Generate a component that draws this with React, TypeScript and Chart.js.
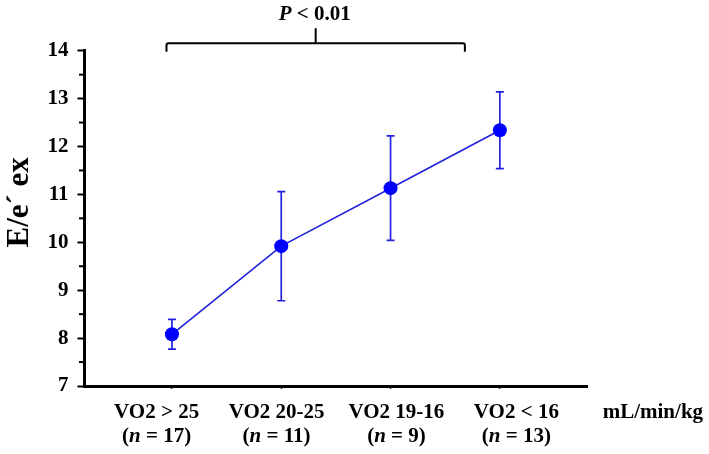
import React, { useEffect, useRef } from "react";
import { Chart, registerables } from "chart.js";

Chart.register(...registerables);

// ---- data ----
const categories = ["VO2 > 25", "VO2 20-25", "VO2 19-16", "VO2 < 16"];
const groupSizes = [17, 11, 9, 13];
const groupIndex = [1, 2, 3, 4];
const meanValues = [8.08, 9.92, 11.13, 12.34];
const sdValues = [0.31, 1.14, 1.09, 0.8];
const yTickValues = [7, 8, 9, 10, 11, 12, 13, 14];
const yMinorTickValues = [7.5, 8.5, 9.5, 10.5, 11.5, 12.5, 13.5];
const unitLabel = "mL/min/kg";
const yTitle = "E/e\u00B4 ex";
const pItalic = "P";
const pRest = " < 0.01";

// ---- layout / style constants ----
const SERIF = '"Liberation Serif", "Times New Roman", serif';
const FONT = `bold 21px ${SERIF}`;
const FONT_IT = `italic bold 21px ${SERIF}`;
const LINE_BLUE = "#2222dd";
const DOT_BLUE = "#0000ff";
const X_MIN = 0.2;
const X_MAX = 4.8;
const LABEL_START = 0.86;
const LABEL_STEP = 1.097;
const UNIT_AT = 5.4;
const BRACKET_FROM = 0.95;
const BRACKET_TO = 3.68;

type Run = { text: string; font: string };

function drawRuns(ctx: CanvasRenderingContext2D, runs: Run[], cx: number, y: number) {
  let total = 0;
  const widths = runs.map((r) => {
    ctx.font = r.font;
    const w = ctx.measureText(r.text).width;
    total += w;
    return w;
  });
  let x = cx - total / 2;
  ctx.textAlign = "left";
  ctx.textBaseline = "alphabetic";
  runs.forEach((r, i) => {
    ctx.font = r.font;
    ctx.fillText(r.text, x, y);
    x += widths[i];
  });
}

const annotatePlugin = {
  id: "annotate",
  beforeDatasetsDraw(chart: any) {
    const ctx: CanvasRenderingContext2D = chart.ctx;
    const xs = chart.scales.x;
    const ys = chart.scales.y;
    ctx.save();
    ctx.strokeStyle = LINE_BLUE;
    ctx.lineWidth = 1.7;
    groupIndex.forEach((g, i) => {
      const x = xs.getPixelForValue(g);
      const yTop = ys.getPixelForValue(meanValues[i] + sdValues[i]);
      const yBot = ys.getPixelForValue(meanValues[i] - sdValues[i]);
      ctx.beginPath();
      ctx.moveTo(x, yTop);
      ctx.lineTo(x, yBot);
      ctx.moveTo(x - 4, yTop);
      ctx.lineTo(x + 4, yTop);
      ctx.moveTo(x - 4, yBot);
      ctx.lineTo(x + 4, yBot);
      ctx.stroke();
    });
    ctx.restore();
  },
  afterDraw(chart: any) {
    const ctx: CanvasRenderingContext2D = chart.ctx;
    const xs = chart.scales.x;
    const ys = chart.scales.y;
    const area = chart.chartArea;
    ctx.save();
    ctx.fillStyle = "#000";
    ctx.strokeStyle = "#000";

    // minor ticks on the y axis
    ctx.lineWidth = 2;
    yMinorTickValues.forEach((v) => {
      const y = ys.getPixelForValue(v);
      ctx.beginPath();
      ctx.moveTo(area.left - 5.5, y);
      ctx.lineTo(area.left, y);
      ctx.stroke();
    });

    // category labels
    categories.forEach((c, i) => {
      const cx = xs.getPixelForValue(LABEL_START + i * LABEL_STEP);
      drawRuns(ctx, [{ text: c, font: FONT }], cx, area.bottom + 31.7);
      drawRuns(
        ctx,
        [
          { text: "(", font: FONT },
          { text: "n", font: FONT_IT },
          { text: ` = ${groupSizes[i]})`, font: FONT },
        ],
        cx,
        area.bottom + 56
      );
    });
    drawRuns(ctx, [{ text: unitLabel, font: FONT }], xs.getPixelForValue(UNIT_AT), area.bottom + 31.7);

    // y title
    ctx.save();
    ctx.translate(28, (area.top + area.bottom) / 2 - 16);
    ctx.rotate(-Math.PI / 2);
    ctx.font = `bold 31px ${SERIF}`;
    ctx.textAlign = "center";
    ctx.textBaseline = "alphabetic";
    ctx.fillText(yTitle, 0, 0);
    ctx.restore();

    // significance bracket
    const bx1 = xs.getPixelForValue(BRACKET_FROM);
    const bx2 = xs.getPixelForValue(BRACKET_TO);
    const bm = (bx1 + bx2) / 2;
    const by = area.top - 7.5;
    ctx.lineWidth = 2;
    ctx.beginPath();
    ctx.moveTo(bx1, area.top + 1);
    ctx.lineTo(bx1, by + 2);
    ctx.quadraticCurveTo(bx1, by, bx1 + 2, by);
    ctx.lineTo(bx2 - 2, by);
    ctx.quadraticCurveTo(bx2, by, bx2, by + 2);
    ctx.lineTo(bx2, area.top + 1);
    ctx.moveTo(bm, by);
    ctx.lineTo(bm, area.top - 22.5);
    ctx.stroke();
    drawRuns(
      ctx,
      [
        { text: pItalic, font: FONT_IT },
        { text: pRest, font: FONT },
      ],
      bm - 1,
      area.top - 30.5
    );
    ctx.restore();
  },
};

export default function App() {
  const canvasRef = useRef<HTMLCanvasElement | null>(null);

  useEffect(() => {
    if (!canvasRef.current) return;
    const chart = new Chart(canvasRef.current, {
      type: "line",
      data: {
        datasets: [
          {
            data: groupIndex.map((g, i) => ({ x: g, y: meanValues[i] })),
            borderColor: LINE_BLUE,
            borderWidth: 1.6,
            pointRadius: 7,
            pointBackgroundColor: DOT_BLUE,
            pointBorderColor: DOT_BLUE,
            pointBorderWidth: 0,
            tension: 0,
            fill: false,
          },
        ],
      },
      options: {
        responsive: false,
        animation: false,
        events: [],
        layout: { padding: { top: 50.7, right: 121.7, bottom: 0, left: 0 } },
        plugins: {
          legend: { display: false },
          tooltip: { enabled: false },
          title: { display: false },
        },
        scales: {
          x: {
            type: "linear",
            min: X_MIN,
            max: X_MAX,
            afterBuildTicks: (s: any) => {
              s.ticks = groupIndex.map((v) => ({ value: v }));
            },
            afterFit: (s: any) => {
              s.height = 68;
            },
            ticks: { display: false },
            grid: {
              drawOnChartArea: false,
              drawTicks: true,
              tickLength: 3,
              tickWidth: 1.5,
              tickColor: "#333",
            },
            border: { display: true, color: "#000", width: 3 },
          },
          y: {
            type: "linear",
            min: 7,
            max: 14,
            afterBuildTicks: (s: any) => {
              s.ticks = yTickValues.map((v) => ({ value: v }));
            },
            afterFit: (s: any) => {
              s.width = 84.5;
            },
            ticks: {
              color: "#000",
              font: { family: SERIF, size: 21, weight: "bold" },
              padding: 9,
            },
            grid: {
              drawOnChartArea: false,
              tickLength: 7,
              tickWidth: 2,
              tickColor: "#000",
            },
            border: { display: true, color: "#000", width: 3 },
          },
        },
      },
      plugins: [annotatePlugin],
    } as any);
    return () => chart.destroy();
  }, []);

  return (
    <div style={{ position: "absolute", left: 0, top: 0, width: 709, height: 454, background: "#fff" }}>
      <canvas ref={canvasRef} width={709} height={454} style={{ display: "block", width: 709, height: 454 }} />
    </div>
  );
}
